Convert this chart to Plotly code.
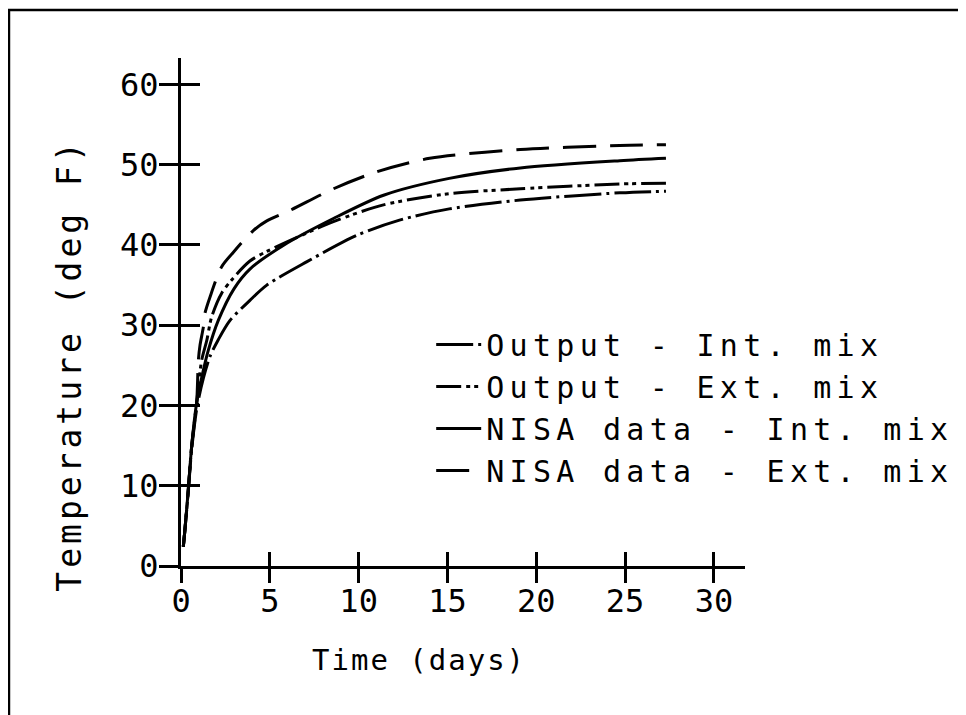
import plotly.graph_objects as go

# ---- data ----
out_int_t = [0.13, 0.22, 0.41, 0.6, 0.9, 1.26, 1.63, 2.1, 2.76, 3.88, 4.83, 7.07, 9.9, 12.3, 15.1, 19.1, 24.7, 27.3]
out_int_y = [2.4, 4.5, 9.3, 14.5, 19.8, 23.4, 26.1, 28.2, 30.6, 33.1, 35.0, 37.9, 41.2, 43.1, 44.5, 45.6, 46.5, 46.7]

out_ext_t = [0.13, 0.22, 0.41, 0.6, 0.88, 1.16, 1.45, 1.72, 2.29, 2.95, 3.88, 4.83, 8.58, 11.4, 15.1, 19.1, 24.7, 27.3]
out_ext_y = [2.4, 4.5, 9.5, 14.9, 20.3, 25.6, 28.1, 31.0, 34.0, 35.9, 38.0, 39.2, 42.9, 45.0, 46.4, 47.0, 47.6, 47.7]

nisa_int_t = [0.13, 0.22, 0.41, 0.6, 0.88, 1.26, 1.54, 2.1, 3.0, 3.88, 5.8, 8.58, 11.4, 15.1, 19.1, 24.7, 27.3]
nisa_int_y = [2.4, 4.5, 9.5, 14.9, 20.3, 24.4, 26.9, 30.6, 34.6, 37.0, 40.0, 43.3, 46.2, 48.3, 49.6, 50.5, 50.8]

nisa_ext_t = [0.13, 0.22, 0.41, 0.6, 0.88, 0.98, 1.07, 1.26, 1.35, 1.63, 2.29, 2.95, 4.07, 4.83, 6.13, 8.58, 11.0, 14.0, 19.1, 24.7, 27.3]
nisa_ext_y = [2.4, 4.5, 9.5, 14.9, 20.3, 25.7, 27.5, 29.8, 31.5, 33.5, 37.3, 39.1, 41.8, 43.0, 44.3, 47.0, 49.1, 50.8, 51.9, 52.4, 52.5]

series_names = ["Output - Int. mix", "Output - Ext. mix", "NISA data - Int. mix", "NISA data - Ext. mix"]
x_ticks = [0, 5, 10, 15, 20, 25, 30]
y_ticks = [0, 10, 20, 30, 40, 50, 60]

x_title = "Time (days)"
y_title = "Temperature (deg F)"

MONO = "DejaVu Sans Mono"
X_RANGE = [0, 31.75]
Y_RANGE = [0, 63.3]


def spaced(s, px):
    return '<span style="letter-spacing:%spx">%s</span>' % (px, s)


fig = go.Figure()
dashes = ["37px,5px,3px,5px", "25px,5px,4px,4px,4px,5px", "solid", "33px,14px"]
for t, y, name, d in zip([out_int_t, out_ext_t, nisa_int_t, nisa_ext_t],
                         [out_int_y, out_ext_y, nisa_int_y, nisa_ext_y],
                         series_names, dashes):
    fig.add_trace(go.Scatter(x=t, y=y, mode="lines", name=spaced(name, 5.3),
                             line=dict(color="black", width=3, dash=d, shape="spline", smoothing=0.8)))

axis_common = dict(showgrid=False, zeroline=False, showline=True, linecolor="black", linewidth=3,
                   tickcolor="black", tickwidth=3)

fig.update_layout(
    width=966, height=715,
    margin=dict(l=173, r=229, t=50, b=157, autoexpand=False),
    paper_bgcolor="white", plot_bgcolor="white",
    font=dict(family=MONO, color="black", size=32),
    xaxis=dict(range=X_RANGE, tickvals=x_ticks, ticks="", ticklabelstandoff=5,
               tickfont=dict(size=32, family=MONO), **axis_common),
    yaxis=dict(range=Y_RANGE, tickvals=y_ticks, ticks="", ticklabelstandoff=13,
               tickfont=dict(size=32, family=MONO), **axis_common),
    xaxis2=dict(range=X_RANGE, tickvals=x_ticks, ticks="inside", ticklen=14, overlaying="x",
                anchor="y", showticklabels=False, **axis_common),
    yaxis2=dict(range=Y_RANGE, tickvals=y_ticks, ticks="inside", ticklen=19, overlaying="y",
                anchor="x", showticklabels=False, **axis_common),
    xaxis3=dict(range=X_RANGE, tickvals=x_ticks, ticks="outside", ticklen=14, overlaying="x",
                anchor="y", showticklabels=False, **axis_common),
    yaxis3=dict(range=Y_RANGE, tickvals=y_ticks, ticks="outside", ticklen=19, overlaying="y",
                anchor="x", showticklabels=False, **axis_common),
    showlegend=True,
    legend=dict(x=0.4436, y=0.487, xanchor="left", yanchor="top", bgcolor="rgba(0,0,0,0)",
                font=dict(size=30, family=MONO, color="black"), tracegroupgap=0, itemwidth=45),
    annotations=[
        dict(text=spaced(y_title, 4), x=-0.197, y=0.396, xref="paper", yref="paper", textangle=-90,
             xanchor="center", yanchor="middle", showarrow=False, font=dict(size=33, family=MONO)),
        dict(text=spaced(x_title, 2), x=0.422, y=-0.185, xref="paper", yref="paper",
             xanchor="center", yanchor="middle", showarrow=False, font=dict(size=29, family=MONO)),
    ],
    shapes=[
        dict(type="rect", xref="paper", yref="paper", x0=-0.3050, x1=1.42, y0=-0.33, y1=1.0945,
             line=dict(color="black", width=2.5), fillcolor="rgba(0,0,0,0)", layer="below"),
    ],
)
# empty traces to anchor the overlay axes that draw the crossing ticks
fig.add_trace(go.Scatter(x=[None], y=[None], xaxis="x2", yaxis="y2", showlegend=False, hoverinfo="skip"))
fig.add_trace(go.Scatter(x=[None], y=[None], xaxis="x3", yaxis="y3", showlegend=False, hoverinfo="skip"))

fig.write_html("out.html")
